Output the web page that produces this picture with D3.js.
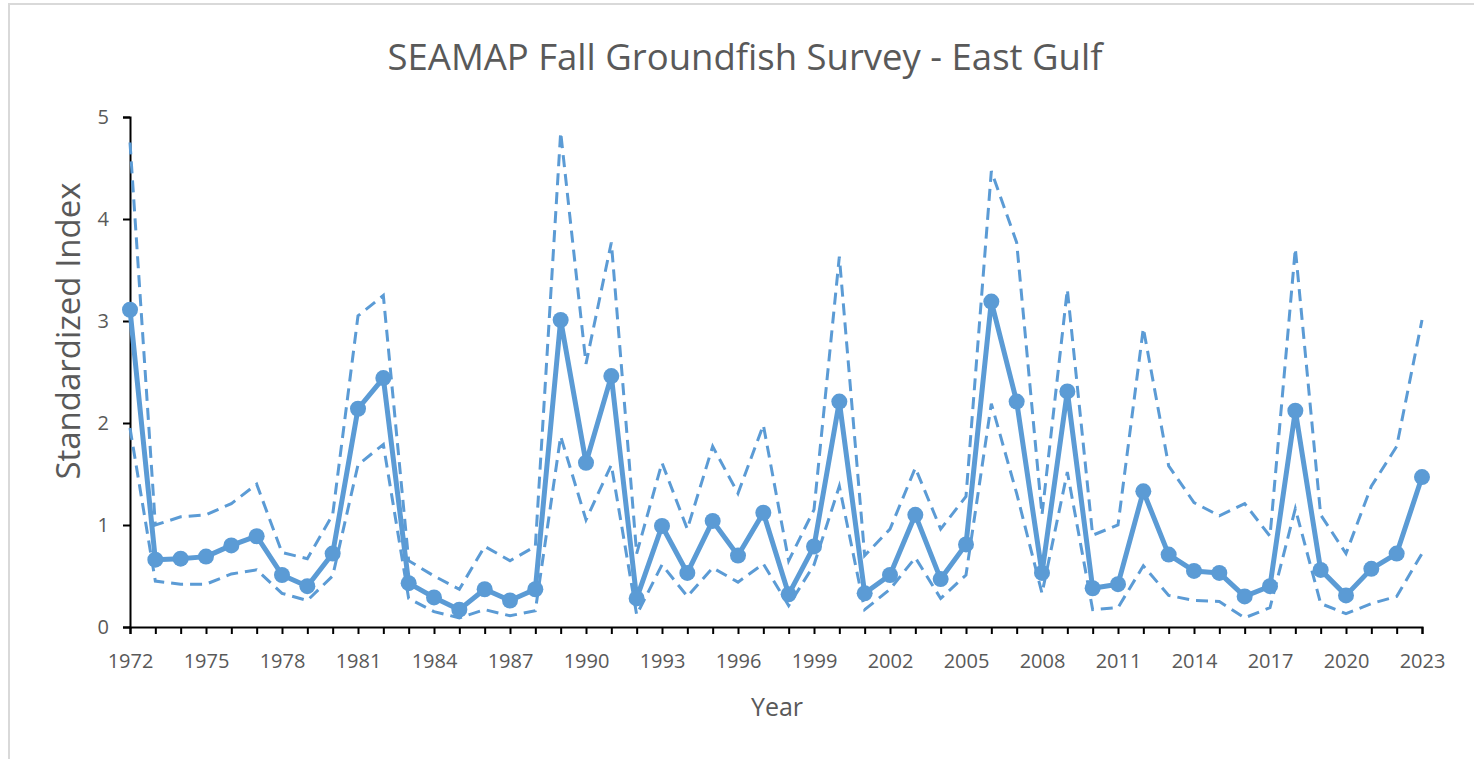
<!DOCTYPE html>
<html>
<head>
<meta charset="utf-8">
<script src="https://cdn.jsdelivr.net/npm/d3@7"></script>
<style>
html,body{margin:0;padding:0;background:#fff;}
svg{display:block;}
</style>
</head>
<body>
<svg id="chart" width="1474" height="759"></svg>
<script>
const years = d3.range(1972, 2024);
const indexValues = [3.11,0.66,0.67,0.69,0.80,0.89,0.51,0.40,0.72,2.14,2.44,0.43,0.29,0.17,0.37,0.26,0.37,3.01,1.61,2.46,0.28,0.99,0.53,1.04,0.70,1.12,0.32,0.79,2.21,0.33,0.51,1.10,0.47,0.81,3.19,2.21,0.53,2.31,0.38,0.42,1.33,0.71,0.55,0.53,0.30,0.40,2.12,0.56,0.31,0.57,0.72,1.47];
const upperCI = [4.75,1.00,1.08,1.10,1.21,1.40,0.73,0.67,1.10,3.05,3.25,0.65,0.50,0.37,0.79,0.65,0.79,4.85,2.58,3.77,0.72,1.61,0.96,1.77,1.31,1.98,0.65,1.15,3.63,0.70,0.96,1.56,0.96,1.28,4.47,3.77,1.10,3.31,0.90,1.00,2.93,1.58,1.22,1.09,1.21,0.89,3.71,1.10,0.72,1.38,1.77,3.01];
const lowerCI = [1.95,0.45,0.42,0.42,0.52,0.56,0.33,0.26,0.50,1.59,1.79,0.28,0.15,0.09,0.17,0.11,0.16,1.87,1.05,1.59,0.12,0.61,0.30,0.58,0.44,0.62,0.21,0.61,1.38,0.17,0.37,0.68,0.28,0.51,2.19,1.31,0.33,1.52,0.17,0.19,0.60,0.31,0.26,0.25,0.09,0.19,1.16,0.23,0.13,0.23,0.30,0.72];
const xTickLabels = [1972,1975,1978,1981,1984,1987,1990,1993,1996,1999,2002,2005,2008,2011,2014,2017,2020,2023];
const yTicks = [0,1,2,3,4,5];

const title = "SEAMAP Fall Groundfish Survey - East Gulf";
const xTitle = "Year";
const yTitle = "Standardized Index";

const svg = d3.select("#chart");
const W = 1474, H = 759;
const plot = {left:130, right:1422, top:117, bottom:627};
const blue = "#5B9BD5";
const textColor = "#595959";
const font = "'Open Sans', sans-serif";

// chart frame
svg.append("rect").attr("x",9).attr("y",4).attr("width",W).attr("height",H)
  .attr("fill","#fff").attr("stroke","#d9d9d9").attr("stroke-width",2);

const x = d3.scaleLinear().domain([1972, 2023]).range([plot.left, plot.right]);
const y = d3.scaleLinear().domain([0, 5]).range([plot.bottom, plot.top]);

// title
svg.append("text").attr("x", 745).attr("y", 70).attr("text-anchor","middle")
  .attr("font-family", font).attr("font-size", 36.5).attr("fill", textColor).text(title);

// axes
const xAxis = d3.axisBottom(x).tickValues(years).tickSize(7)
  .tickFormat(d => xTickLabels.includes(d) ? String(d) : "");
const gx = svg.append("g").attr("transform", `translate(0,${plot.bottom})`).call(xAxis);
gx.select(".domain").attr("stroke","#000").attr("stroke-width",2);
gx.selectAll(".tick line").attr("stroke","#000").attr("stroke-width",2);
gx.selectAll(".tick text").attr("font-family", font).attr("font-size", 20)
  .attr("fill", textColor).attr("y", 27).attr("dy", "0.71em");

const yAxis = d3.axisLeft(y).tickValues(yTicks).tickSize(7).tickFormat(d3.format("d"));
const gy = svg.append("g").attr("transform", `translate(${plot.left},0)`).call(yAxis);
gy.select(".domain").attr("stroke","#000").attr("stroke-width",2);
gy.selectAll(".tick line").attr("stroke","#000").attr("stroke-width",2);
gy.selectAll(".tick text").attr("font-family", font).attr("font-size", 20)
  .attr("fill", textColor).attr("x", -21);

// axis titles
svg.append("text").attr("x", 777).attr("y", 716).attr("text-anchor","middle")
  .attr("font-family", font).attr("font-size", 25).attr("fill", textColor).text(xTitle);
svg.append("text").attr("transform", `translate(80,331) rotate(-90)`)
  .attr("text-anchor","middle").attr("font-family", font).attr("font-size", 33)
  .attr("fill", textColor).text(yTitle);

// lines
const line = d3.line().x((d,i) => x(years[i])).y(d => y(d));
[upperCI, lowerCI].forEach(arr => {
  svg.append("path").datum(arr).attr("d", line).attr("fill","none")
    .attr("stroke", blue).attr("stroke-width", 3).attr("stroke-dasharray","12,7");
});
svg.append("path").datum(indexValues).attr("d", line).attr("fill","none")
  .attr("stroke", blue).attr("stroke-width", 5).attr("stroke-linejoin","round");
svg.append("g").selectAll("circle").data(indexValues).join("circle")
  .attr("cx", (d,i) => x(years[i])).attr("cy", d => y(d)).attr("r", 8).attr("fill", blue);
</script>
</body>
</html>
